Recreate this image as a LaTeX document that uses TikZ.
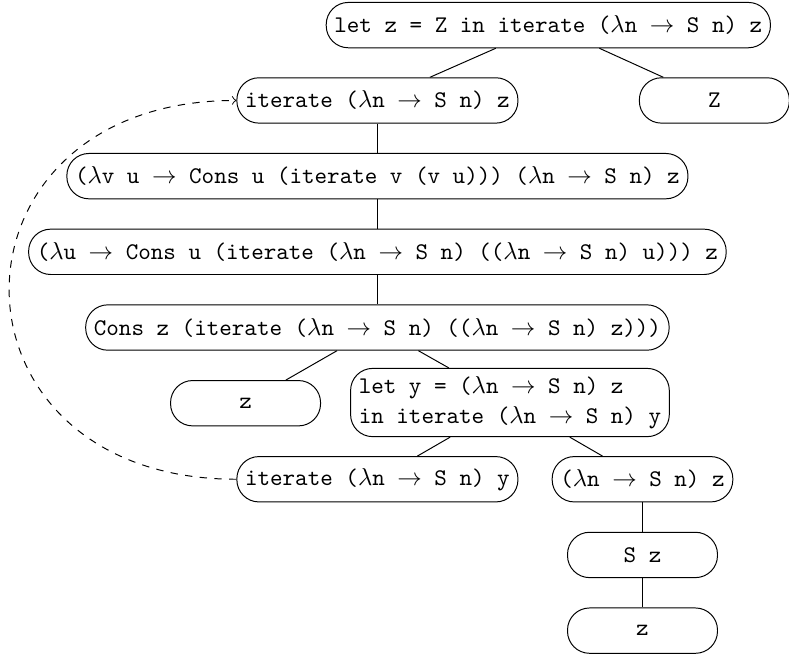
\documentclass[tikz,border=0pt]{standalone}
\usepackage{amsmath}
\usepackage{amssymb}
\usepackage{tikz}
\usetikzlibrary{arrows}

\begin{document}
\begin{tikzpicture}[-,auto,node distance=1.085cm]

    \tikzstyle{term}=[draw=black,fill=white,text=black,rounded corners=9pt,minimum height=0.65cm,font=\ttfamily\fontsize{9.75}{12}\selectfont]
    \tikzstyle{leaf}=[minimum width=2.15cm]

    \useasboundingbox (0,0) rectangle (11.31,-9.39);

    \node[term]       (letz)  at (7.86,-0.36)  {let z = Z in iterate ($\lambda$n $\rightarrow$ S n) z};
    \node[term]       (iterz) at (5.41,-1.44)  {iterate ($\lambda$n $\rightarrow$ S n) z};
    \node[term,leaf]  (Z)     at (10.24,-1.44) {Z};
    \node[term]       (lv)    [below of=iterz] {($\lambda$v u $\rightarrow$ Cons u (iterate v (v u))) ($\lambda$n $\rightarrow$ S n) z};
    \node[term]       (lu)    [below of=lv]    {($\lambda$u $\rightarrow$ Cons u (iterate ($\lambda$n $\rightarrow$ S n) (($\lambda$n $\rightarrow$ S n) u))) z};
    \node[term]       (cons)  [below of=lu]    {Cons z (iterate ($\lambda$n $\rightarrow$ S n) (($\lambda$n $\rightarrow$ S n) z)))};
    \node[term,leaf]  (z1)    at (3.52,-5.78)  {z};
    \node[term,align=left] (lety) at (7.31,-5.77) {let y = ($\lambda$n $\rightarrow$ S n) z\\in iterate ($\lambda$n $\rightarrow$ S n) y};
    \node[term]       (itery) at (5.41,-6.87)  {iterate ($\lambda$n $\rightarrow$ S n) y};
    \node[term]       (lamz)  at (9.21,-6.87)  {($\lambda$n $\rightarrow$ S n) z};
    \node[term,leaf]  (Sz)    [below of=lamz]  {S z};
    \node[term,leaf]  (z2)    [below of=Sz]    {z};

    \path (letz) edge (iterz)
                 edge (Z)
          (iterz) edge (lv)
          (lv) edge (lu)
          (lu) edge (cons)
          (cons) edge (z1)
                  edge (lety)
          (lety) edge (itery)
                 edge (lamz)
          (lamz) edge (Sz)
          (Sz) edge (z2)
          (itery) edge[->,dashed,out=180,in=180,looseness=2.05] (iterz)
    ;
\end{tikzpicture}
\end{document}
